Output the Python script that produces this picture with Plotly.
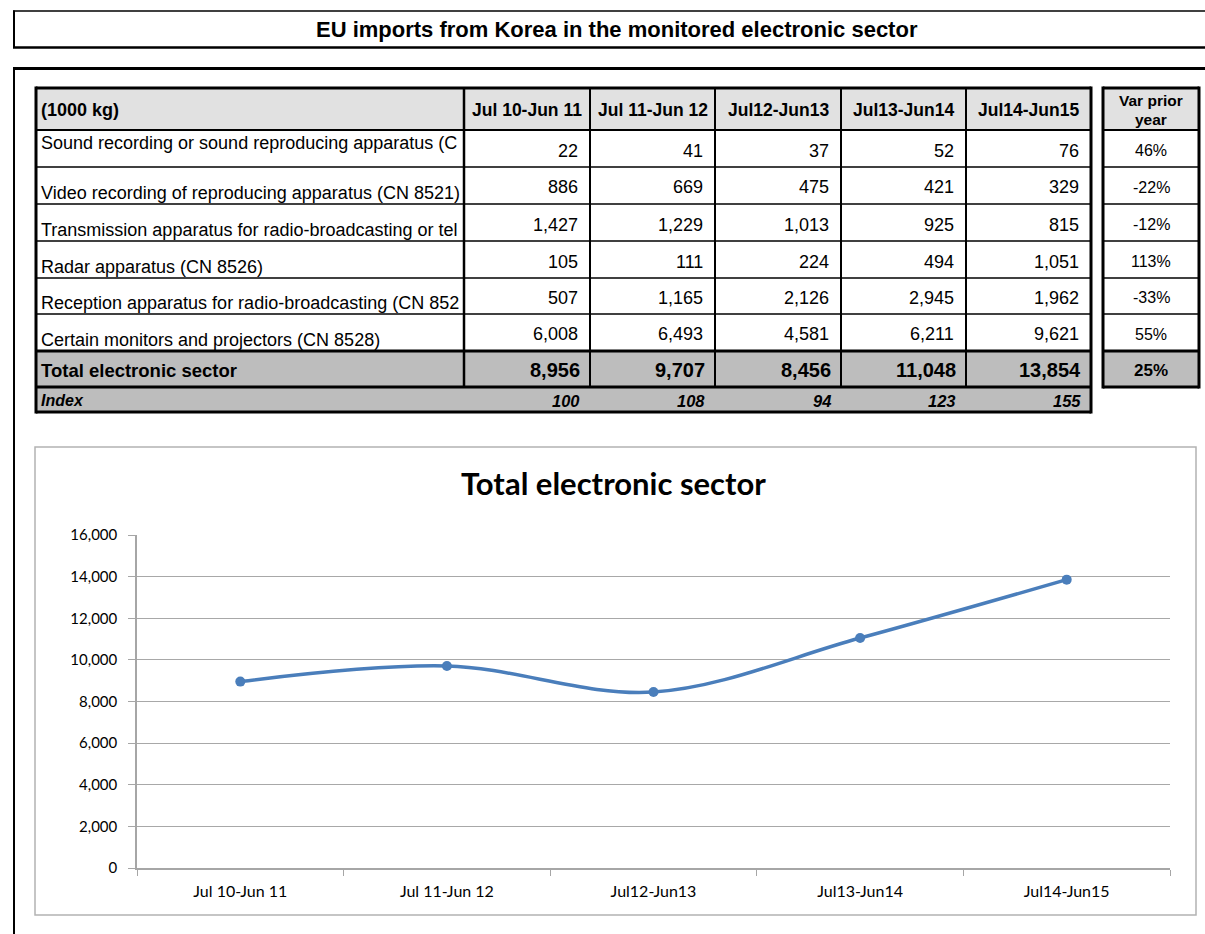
import plotly.graph_objects as go

# ---------------- data ----------------
periods = ["Jul 10-Jun 11", "Jul 11-Jun 12", "Jul12-Jun13", "Jul13-Jun14", "Jul14-Jun15"]
# visible (clipped) part of each product label in the sheet
products_visible = [
    "Sound recording or sound reproducing apparatus (C",
    "Video recording of reproducing apparatus (CN 8521)",
    "Transmission apparatus for radio-broadcasting or tel",
    "Radar apparatus (CN 8526)",
    "Reception apparatus for radio-broadcasting (CN 852",
    "Certain monitors and projectors (CN 8528)",
]
sound = [22, 41, 37, 52, 76]
video = [886, 669, 475, 421, 329]
transmission = [1427, 1229, 1013, 925, 815]
radar = [105, 111, 224, 494, 1051]
reception = [507, 1165, 2126, 2945, 1962]
monitors = [6008, 6493, 4581, 6211, 9621]
product_values = [sound, video, transmission, radar, reception, monitors]
totals = [8956, 9707, 8456, 11048, 13854]
index_values = [100, 108, 94, 123, 155]
var_prior = ["46%", "-22%", "-12%", "113%", "-33%", "55%"]
var_total = "25%"

sheet_title = "EU imports from Korea in the monitored electronic sector"
chart_title = "Total electronic sector"
y_ticks = [0, 2000, 4000, 6000, 8000, 10000, 12000, 14000, 16000]

# ---------------- layout helpers (pixel -> paper) ----------------
W, H = 1205, 934


def X(p):
    return p / W


def Y(p):
    return 1 - p / H


shapes = []
annotations = []


def line(x0, y0, x1, y1, w, color="black"):
    shapes.append(dict(type="line", xref="paper", yref="paper",
                       x0=X(x0), y0=Y(y0), x1=X(x1), y1=Y(y1),
                       line=dict(color=color, width=w), layer="above"))


def rect(x0, y0, x1, y1, fill, border=None, bw=0):
    shapes.append(dict(type="rect", xref="paper", yref="paper",
                       x0=X(x0), y0=Y(y0), x1=X(x1), y1=Y(y1),
                       fillcolor=fill,
                       line=dict(color=border or fill, width=bw), layer="below"))


def text(s, x, y, size, xanchor="center", bold=False, italic=False,
         family="Liberation Sans, Arial, sans-serif", color="black"):
    t = s
    if bold:
        t = "<b>" + t + "</b>"
    if italic:
        t = "<i>" + t + "</i>"
    annotations.append(dict(text=t, x=X(x), y=Y(y), xref="paper", yref="paper",
                            xanchor=xanchor, yanchor="middle", showarrow=False,
                            borderpad=0,
                            font=dict(size=size, family=family, color=color)))


# ---------------- sheet title box ----------------
line(13, 11, W, 11, 1.5)
line(14, 10.5, 14, 48, 2)
line(13, 47.5, W, 47.5, 2.5)
text(sheet_title, 617, 29, 22, bold=True)

# second frame
line(13, 68.5, W, 68.5, 3)
line(14, 67, 14, H, 2)

# ---------------- table ----------------
col_edges = [36, 464, 590, 715, 841, 966, 1091]
row_edges = [88, 130, 167, 204, 241, 278, 314, 351, 387, 412]
var_x0, var_x1 = 1103, 1199

# fills
rect(col_edges[0], row_edges[0], col_edges[-1], row_edges[1], "#E1E1E1")
rect(col_edges[0], row_edges[7], col_edges[-1], row_edges[9], "#BDBDBD")
rect(var_x0, row_edges[0], var_x1, row_edges[1], "#E1E1E1")
rect(var_x0, row_edges[7], var_x1, row_edges[8], "#BDBDBD")

# horizontal lines
for i, yy in enumerate(row_edges):
    if i in (0, 7, 8, 9):
        w = 3
    elif i == 1:
        w = 2
    else:
        w = 1.5
    line(col_edges[0], yy, col_edges[-1], yy, w)
    if i <= 8:
        line(var_x0, yy, var_x1, yy, w)
# vertical lines
line(col_edges[0], row_edges[0] - 1.5, col_edges[0], row_edges[-1] + 1.5, 3)
line(col_edges[-1], row_edges[0] - 1.5, col_edges[-1], row_edges[-1] + 1.5, 3)
line(col_edges[1], row_edges[0], col_edges[1], row_edges[8], 2.5)
for xx in col_edges[2:-1]:
    line(xx, row_edges[0], xx, row_edges[8], 2)
line(var_x0, row_edges[0] - 1.5, var_x0, row_edges[8] + 1.5, 3)
line(var_x1, row_edges[0] - 1.5, var_x1, row_edges[8] + 1.5, 3)

# header texts
hy = (row_edges[0] + row_edges[1]) / 2 + 1
text("(1000 kg)", col_edges[0] + 4, hy, 18, xanchor="left", bold=True)
for j, p in enumerate(periods):
    cx = (col_edges[j + 1] + col_edges[j + 2]) / 2
    text(p, cx, hy, 17.5, bold=True)
text("Var prior", (var_x0 + var_x1) / 2, 100, 15.5, bold=True)
text("year", (var_x0 + var_x1) / 2, 120, 15.5, bold=True)

# data rows
pad = 11
for i, (name, vals) in enumerate(zip(products_visible, product_values)):
    top, bot = row_edges[i + 1], row_edges[i + 2]
    ly = top + 13 if i == 0 else bot - 11
    text(name, col_edges[0] + 4, ly, 18, xanchor="left")
    cy = (top + bot) / 2 + 2
    for j, v in enumerate(vals):
        text(f"{v:,}", col_edges[j + 2] - pad, cy, 18, xanchor="right")
    text(var_prior[i], (var_x0 + var_x1) / 2, cy, 16)

# total row
ty = (row_edges[7] + row_edges[8]) / 2 + 1
text("Total electronic sector", col_edges[0] + 4, ty, 18.5, xanchor="left", bold=True)
for j, v in enumerate(totals):
    text(f"{v:,}", col_edges[j + 2] - 9, ty, 20, xanchor="right", bold=True)
text(var_total, (var_x0 + var_x1) / 2, ty, 17, bold=True)

# index row
iy = (row_edges[8] + row_edges[9]) / 2 + 1
text("Index", col_edges[0] + 4, iy, 16, xanchor="left", bold=True, italic=True)
for j, v in enumerate(index_values):
    text(f"{v:,}", col_edges[j + 2] - 9, iy, 16.5, xanchor="right", bold=True, italic=True)

# ---------------- chart ----------------
chart_font = "Lato, Carlito, Calibri, sans-serif"
rect(35, 447, 1196, 915, "white", border="#B3B3B3", bw=1.5)
text(chart_title, 613, 483, 31, bold=True, family=chart_font)

plot_x0, plot_x1 = 137, 1170
plot_y0, plot_y1 = 535, 868

fig = go.Figure()
fig.add_trace(go.Scatter(
    x=periods, y=totals, mode="lines+markers",
    line=dict(color="#4A7EBB", width=3.5, shape="spline", smoothing=1),
    marker=dict(color="#4A7EBB", size=10),
    showlegend=False, cliponaxis=False,
))

fig.update_layout(
    width=W, height=H,
    margin=dict(l=0, r=0, t=0, b=0, pad=0, autoexpand=False),
    paper_bgcolor="white", plot_bgcolor="rgba(0,0,0,0)",
    shapes=shapes, annotations=annotations,
    xaxis=dict(domain=[X(plot_x0), X(plot_x1)], type="category",
               range=[-0.5, len(periods) - 0.5], automargin=False,
               showgrid=False, showline=True, linecolor="#A6A6A6", linewidth=1.5,
               ticks="outside", tickson="boundaries", ticklen=6, tickcolor="#A6A6A6",
               tickwidth=1.2, ticklabelstandoff=8,
               tickfont=dict(family=chart_font, size=16, color="black"),
               zeroline=False, fixedrange=True),
    yaxis=dict(domain=[Y(plot_y1), Y(plot_y0)], range=[0, 16000], automargin=False,
               tickvals=y_ticks, tickformat=",",
               showgrid=True, gridcolor="#A8A8A8", gridwidth=1.3,
               showline=True, linecolor="#A6A6A6", linewidth=1.5,
               ticks="outside", ticklen=7, tickcolor="#A6A6A6", tickwidth=1.2,
               ticklabelstandoff=8,
               tickfont=dict(family=chart_font, size=15, color="black"),
               zeroline=False, fixedrange=True),
)

fig.write_html("out.html", config={"displayModeBar": False},
               post_script="document.body.style.margin='0';")
